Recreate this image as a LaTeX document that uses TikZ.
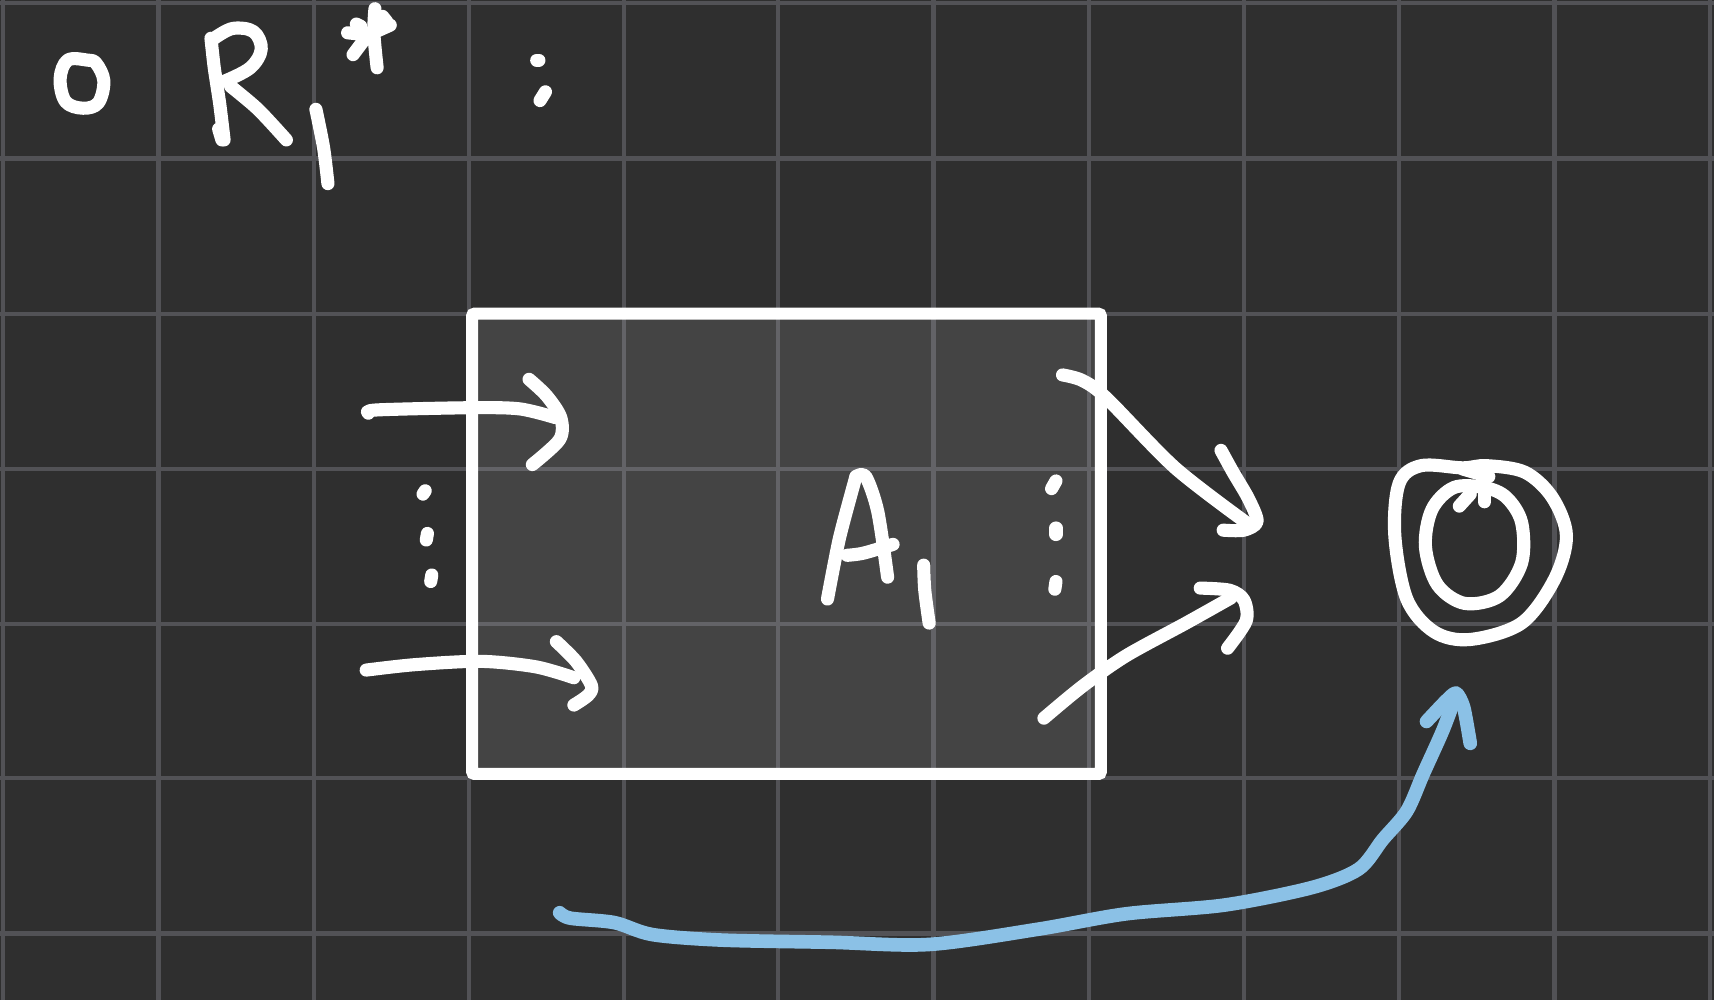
\documentclass[tikz,border=0pt]{standalone}
\begin{document}
\begin{tikzpicture}[x=1pt,y=-1pt,
  ink/.style={draw=white,line width=12pt,line cap=round,line join=round},
  blueink/.style={draw=skyblue,line width=12.5pt,line cap=round,line join=round},
  gridline/.style={draw=gridgray,line width=3.8pt}]
\definecolor{bgdark}{HTML}{2F2F2F}
\definecolor{gridgray}{HTML}{525256}
\definecolor{skyblue}{HTML}{8BC1E6}
\fill[bgdark] (0,0) rectangle (1568,915);
\useasboundingbox (0,0) rectangle (1568,915);
% grid
\foreach \gx in {3,145,287,429,571,712,854,996,1138,1280,1422,1564}
  \draw[gridline] (\gx,0) -- (\gx,915);
\foreach \gy in {3,145,287,429,571,712,854}
  \draw[gridline] (0,\gy) -- (1568,\gy);
% box
\fill[white,fill opacity=0.1] (432,287) rectangle (1007,708);
\draw[draw=white,line width=11pt,rounded corners=2pt] (432,287) rectangle (1007,708);
% "o"
\draw[ink] plot[smooth cycle,tension=0.6] coordinates {(80,55) (62,55) (55,72) (60,93) (76,99) (90,94) (95,74) (88,58)};
% R
\draw[ink] plot[smooth,tension=0.4] coordinates {(193,35) (196,62) (201,95) (205,128)};
\draw[ink] (200,118) -- (203,128);
\draw[ink] plot[smooth,tension=0.6] coordinates {(196,35) (213,26) (232,29) (239,45) (229,62) (206,74)};
\draw[ink] plot[smooth,tension=0.5] coordinates {(211,79) (236,100) (262,128)};
% subscript i
\draw[ink] plot[smooth,tension=0.5] coordinates {(289,100) (296,135) (300,168)};
% asterisk
\draw[ink] plot[smooth,tension=0.5] coordinates {(343,8) (342,30) (345,62)};
\draw[ink] (323,50) -- (338,30);
\draw[ink] (318,30) -- (337,32) -- (357,23);
\draw[ink] (326,22) -- (330,24);
\draw[ink] (350,15) -- (354,20);
% colon
\draw[ink] (491,55) -- (493,55);
\draw[ink] (499,84) -- (494,92);
% left arrows
\draw[ink] plot[smooth,tension=0.5] coordinates {(337,378) (345,375) (430,373) (475,374) (508,382)};
\draw[ink] plot[smooth,tension=0.5] coordinates {(484,347) (500,362) (513,382) (512,402) (487,425)};
\draw[ink] plot[smooth,tension=0.5] coordinates {(335,613) (380,608) (440,605) (490,610) (525,620)};
\draw[ink] plot[smooth,tension=0.5] coordinates {(509,587) (527,605) (541,627) (538,636) (525,645)};
% left dots
\draw[ink] (389,449) -- (387,452);
\draw[ink] (391,488) -- (390,494);
\draw[ink] (395,526) -- (394,532);
% A_i
\draw[ink] plot[smooth,tension=0.4] coordinates {(757,548) (768,492) (783,436)};
\draw[ink] plot[smooth,tension=0.5] coordinates {(783,436) (792,436) (803,468) (812,528)};
\draw[ink] plot[smooth,tension=0.5] coordinates {(775,508) (790,506) (817,498)};
\draw[ink] plot[smooth,tension=0.5] coordinates {(845,517) (846,540) (850,570)};
% right dots
\draw[ink] (966,440) -- (962,447);
\draw[ink] (966,483) -- (966,489);
\draw[ink] (966,532) -- (965,539);
% right arrows
\draw[ink] plot[smooth,tension=0.5] coordinates {(972,343) (990,348) (1012,364) (1075,428) (1140,478)};
\draw[ink] plot[smooth,tension=0.5] coordinates {(1117,412) (1128,432) (1142,456) (1150,477) (1138,485) (1119,485)};
\draw[ink] plot[smooth,tension=0.5] coordinates {(955,657) (990,628) (1030,600) (1085,570) (1126,547)};
\draw[ink] plot[smooth,tension=0.5] coordinates {(1098,538) (1125,540) (1138,549) (1140,568) (1123,593)};
% O (doubled)
\draw[ink] plot[smooth cycle,tension=0.55] coordinates {(1300,426) (1280,442) (1276,490) (1287,548) (1312,578) (1345,585) (1392,570) (1422,530) (1433,490) (1420,455) (1395,432) (1360,426) (1338,428)};
\draw[ink] plot[smooth cycle,tension=0.55] coordinates {(1330,446) (1310,466) (1304,500) (1315,535) (1340,552) (1372,545) (1392,515) (1392,478) (1378,455) (1358,446)};
\draw[ink] (1335,463) -- (1345,452);
\draw[ink] (1358,452) -- (1358,459);
\draw[ink] (1338,429) -- (1362,436);
% blue arrow
\draw[blueink] plot[smooth,tension=0.5] coordinates {(512,835) (522,840) (562,844) (597,855) (660,860) (760,862) (850,864) (950,850) (1030,836) (1120,828) (1200,812) (1243,795) (1265,768) (1287,742) (1302,708) (1320,668) (1332,636)};
\draw[blueink] plot[smooth,tension=0.4] coordinates {(1305,660) (1322,642) (1332,634) (1339,647) (1345,680)};
\end{tikzpicture}
\end{document}
